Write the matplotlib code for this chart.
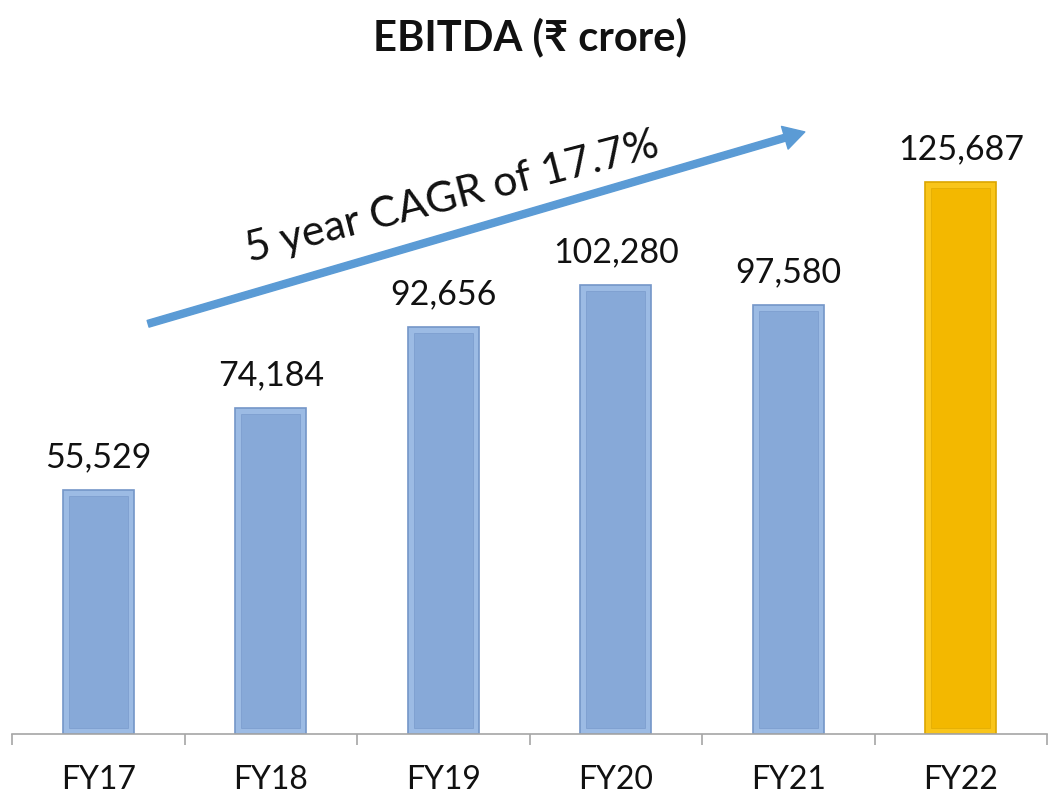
import matplotlib.pyplot as plt
from matplotlib.ticker import FixedLocator

# EBITDA by financial year, in rupee crore
years = ['FY17', 'FY18', 'FY19', 'FY20', 'FY21', 'FY22']
ebitda = [55529, 74184, 92656, 102280, 97580, 125687]
labels = ['55,529', '74,184', '92,656', '102,280', '97,580', '125,687']
cagr_text = '5 year CAGR of 17.7%'

plt.rcParams['font.family'] = ['Lato', 'DejaVu Sans']

blue_outer, blue_inner, blue_edge = '#9cbbe4', '#87a9d8', '#7496c8'
gold_outer, gold_inner, gold_edge = '#f9c51a', '#f3b800', '#dba600'

fig = plt.figure(figsize=(10.5, 7.99), dpi=100)
ax = fig.add_axes([12 / 1050, 65 / 799, 1035 / 1050, 615 / 799])

x = list(range(len(years)))
width = 0.41
ymax = 140000
ax.set_xlim(-0.5, len(years) - 0.5)
ax.set_ylim(0, ymax)

# bevel inset, about 6 px, in data units
px_x = len(years) / 1035
px_y = ymax / 615
inset_x = 6 * px_x
inset_y = 6 * px_y

outer_cols = [blue_outer] * 5 + [gold_outer]
inner_cols = [blue_inner] * 5 + [gold_inner]
edge_cols = [blue_edge] * 5 + [gold_edge]

ax.bar(x, ebitda, width=width, color=outer_cols, edgecolor=edge_cols, linewidth=1.2, zorder=2)
ax.bar(x, [v - 2 * inset_y for v in ebitda], bottom=inset_y, width=width - 2 * inset_x,
       color=inner_cols, edgecolor=edge_cols, linewidth=0.4, zorder=3)

for xi, v, lab in zip(x, ebitda, labels):
    ax.annotate(lab, (xi, v), xytext=(0, 12), textcoords='offset points',
                ha='center', va='bottom', fontsize=24.5, color='#111111')

# axes styling
for s in ['top', 'left', 'right']:
    ax.spines[s].set_visible(False)
ax.spines['bottom'].set_color('#a6a6a6')
ax.spines['bottom'].set_linewidth(1.2)
ax.set_yticks([])
ax.xaxis.set_major_locator(FixedLocator([i - 0.5 for i in range(len(years) + 1)]))
ax.xaxis.set_minor_locator(FixedLocator(x))
ax.set_xticklabels([])
ax.set_xticklabels(years, minor=True)
ax.tick_params(axis='x', which='major', length=8, width=1.2, color='#a6a6a6', direction='out')
ax.tick_params(axis='x', which='minor', length=0, pad=22, labelsize=23, labelcolor='#111111')

# growth arrow and caption
ax.annotate('', xy=(0.766, 0.979), xytext=(0.1315, 0.667), xycoords='axes fraction',
            arrowprops=dict(width=5, headwidth=17, headlength=15, color='#5b9bd5', shrink=0))
ax.text(0.428, 0.854, cagr_text, transform=ax.transAxes, fontsize=31, rotation=14.5,
        rotation_mode='anchor', ha='center', va='baseline', color='#111111')

fig.suptitle('EBITDA (₹ crore)', x=0.505, y=0.978, fontsize=30, fontweight='bold', color='#111111')

fig.savefig('out.png', dpi=100)
